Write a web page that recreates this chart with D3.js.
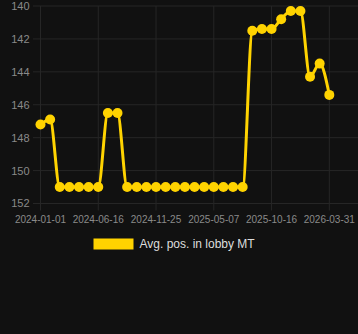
<!DOCTYPE html>
<html>
<head>
<meta charset="utf-8">
<script src="https://cdn.jsdelivr.net/npm/d3@7"></script>
<style>
  html, body { margin: 0; padding: 0; background: #111111; }
  svg { display: block; }
</style>
</head>
<body>
<div id="chart"></div>
<script>
// categories (one per data point)
const dates = [
  "2024-01-01", "2024-01-29", "2024-02-26", "2024-03-25", "2024-04-22", "2024-05-20",
  "2024-06-16", "2024-07-13", "2024-08-09", "2024-09-05", "2024-10-02", "2024-10-29",
  "2024-11-25", "2024-12-22", "2025-01-18", "2025-02-14", "2025-03-13", "2025-04-09",
  "2025-05-07", "2025-06-03", "2025-06-30", "2025-07-27", "2025-08-23", "2025-09-19",
  "2025-10-16", "2025-11-12", "2025-12-09", "2026-01-05", "2026-02-01", "2026-03-01",
  "2026-03-31"
];

// Avg. pos. in lobby MT
const avgPos = [
  147.2, 146.9, 151, 151, 151, 151, 151, 146.5, 146.5, 151,
  151, 151, 151, 151, 151, 151, 151, 151, 151, 151,
  151, 151, 141.5, 141.4, 141.4, 140.8, 140.3, 140.3, 144.3, 143.5,
  145.4
];

const xTickLabels = ["2024-01-01", "2024-06-16", "2024-11-25", "2025-05-07", "2025-10-16", "2026-03-31"];
const yTicks = [140, 142, 144, 146, 148, 150, 152];
const seriesName = "Avg. pos. in lobby MT";

const width = 358;
const height = 334;
const lineColor = "#ffd300";
const gridColor = "#262626";
const labelColor = "#8a8a8a";

const svg = d3.select("#chart")
  .append("svg")
  .attr("width", width)
  .attr("height", height)
  .attr("font-family", "'Liberation Sans', Arial, sans-serif");

svg.append("rect")
  .attr("width", width)
  .attr("height", height)
  .attr("fill", "#111111");

const x = d3.scalePoint()
  .domain(dates)
  .range([40.5, 329.3]);

// positions grow downward: 140 at the top
const y = d3.scaleLinear()
  .domain([140, 152])
  .range([6, 203.5]);

// horizontal grid + y labels
const yAxis = svg.append("g");
yAxis.selectAll("line")
  .data(yTicks)
  .join("line")
  .attr("x1", 33)
  .attr("x2", width)
  .attr("y1", (d) => y(d))
  .attr("y2", (d) => y(d))
  .attr("stroke", gridColor)
  .attr("stroke-width", 1);

yAxis.selectAll("text")
  .data(yTicks)
  .join("text")
  .attr("x", 29.5)
  .attr("y", (d) => y(d))
  .attr("dy", "0.36em")
  .attr("text-anchor", "end")
  .attr("font-size", 11)
  .attr("fill", labelColor)
  .text((d) => d);

// vertical grid + x labels
const xAxis = svg.append("g");
xAxis.selectAll("line")
  .data(xTickLabels)
  .join("line")
  .attr("x1", (d) => x(d))
  .attr("x2", (d) => x(d))
  .attr("y1", y(140))
  .attr("y2", y(152) + 7)
  .attr("stroke", gridColor)
  .attr("stroke-width", 1);

xAxis.selectAll("text")
  .data(xTickLabels)
  .join("text")
  .attr("x", (d) => x(d))
  .attr("y", 219)
  .attr("dy", "0.36em")
  .attr("text-anchor", "middle")
  .attr("font-size", 10)
  .attr("fill", labelColor)
  .text((d) => d);

const points = dates.map((d, i) => ({ date: d, value: avgPos[i] }));

const line = d3.line()
  .x((d) => x(d.date))
  .y((d) => y(d.value))
  .curve(d3.curveMonotoneX);

svg.append("path")
  .datum(points)
  .attr("d", line)
  .attr("fill", "none")
  .attr("stroke", lineColor)
  .attr("stroke-width", 3);

svg.append("g")
  .selectAll("circle")
  .data(points)
  .join("circle")
  .attr("cx", (d) => x(d.date))
  .attr("cy", (d) => y(d.value))
  .attr("r", 5)
  .attr("fill", lineColor);

// legend
const legend = svg.append("g");
legend.append("rect")
  .attr("x", 93.5)
  .attr("y", 238.5)
  .attr("width", 40)
  .attr("height", 11)
  .attr("fill", lineColor);

legend.append("text")
  .attr("x", 139.5)
  .attr("y", 244)
  .attr("dy", "0.36em")
  .attr("font-size", 12)
  .attr("fill", "#dddddd")
  .text(seriesName);
</script>
</body>
</html>
